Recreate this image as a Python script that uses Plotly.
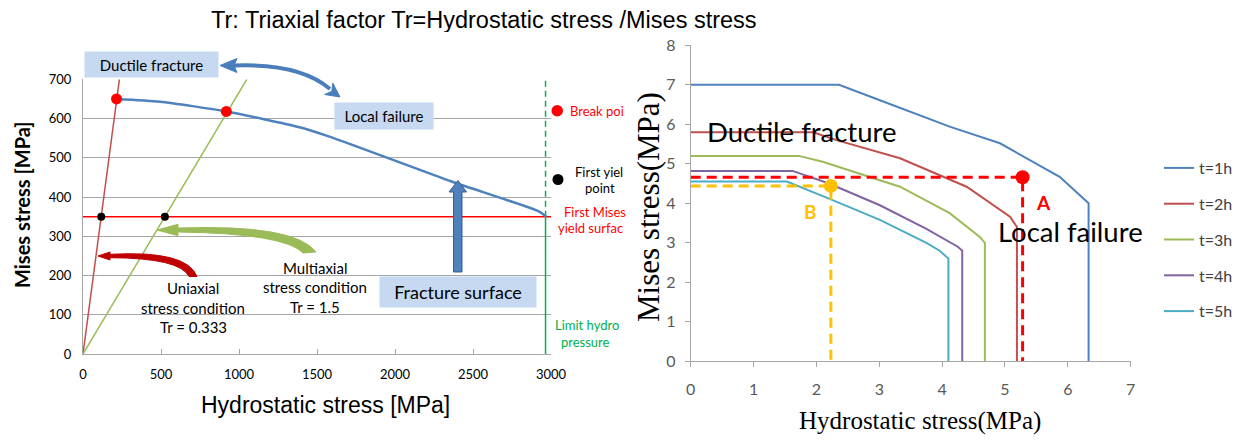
import plotly.graph_objects as go

# page body adds an 8px offset; figure is sized to fill the rest of the window
OFF = 8
W, H = 1244 - OFF, 440 - OFF


def fx(x):
    return (x - OFF) / W


def fy(y):
    return 1 - (y - OFF) / H


def P(x, y):
    return f"{fx(x):.5f},{fy(y):.5f}"


# ---------------- Left chart data ----------------
uni_hydro = [0, 233.3]
uni_mises = [0, 700]
multi_hydro = [0, 1050]
multi_mises = [0, 700]
frac_hydro = [215, 493, 919, 1388, 1580, 2367, 2924, 2970]
frac_mises = [650, 643, 618, 578, 554, 439, 363, 350]
mises_yield_hydro = [0, 3000]
mises_yield_mises = [350, 350]
limit_hydro = [2965, 2965]
limit_solid_mises = [0, 350]
limit_dash_mises = [350, 700]
break_hydro = [215, 919]
break_mises = [650, 618]
yield_hydro = [117, 525]
yield_mises = [350, 350]

# ---------------- Right chart data ----------------
t_names = ["t=1h", "t=2h", "t=3h", "t=4h", "t=5h"]
t_colors = ["#4f81bd", "#c0504d", "#9bbb59", "#8064a2", "#4bacc6"]
t1_x = [0, 2.36, 3.01, 4.12, 4.92, 5.87, 6.33, 6.33]
t1_y = [7, 7, 6.61, 5.94, 5.52, 4.67, 4.0, 0]
t2_x = [0, 1.95, 2.32, 3.33, 4.39, 5.08, 5.19, 5.19]
t2_y = [5.8, 5.8, 5.6, 5.14, 4.42, 3.66, 3.4, 0]
t3_x = [0, 1.72, 2.1, 3.33, 4.12, 4.6, 4.68, 4.68]
t3_y = [5.2, 5.2, 5.05, 4.42, 3.75, 3.15, 3.0, 0]
t4_x = [0, 1.62, 2.2, 3.01, 3.75, 4.12, 4.25, 4.32, 4.32]
t4_y = [4.82, 4.82, 4.5, 3.95, 3.35, 3.03, 2.9, 2.8, 0]
t5_x = [0, 1.53, 2.2, 3.01, 3.75, 3.96, 4.1, 4.1]
t5_y = [4.55, 4.55, 4.12, 3.58, 3.0, 2.8, 2.6, 0]
point_a = (5.28, 4.66)
point_b = (2.23, 4.44)

fig = go.Figure()

# ---- left traces ----
fig.add_trace(go.Scatter(x=uni_hydro, y=uni_mises, mode="lines",
                         line=dict(color="#c0504d", width=1.5), showlegend=False))
fig.add_trace(go.Scatter(x=multi_hydro, y=multi_mises, mode="lines",
                         line=dict(color="#9bbb59", width=1.5), showlegend=False))
fig.add_trace(go.Scatter(x=mises_yield_hydro, y=mises_yield_mises, mode="lines",
                         line=dict(color="#ff0000", width=1.5), showlegend=False))
fig.add_trace(go.Scatter(x=limit_hydro, y=limit_solid_mises, mode="lines",
                         line=dict(color="#00b050", width=1.5), showlegend=False))
fig.add_trace(go.Scatter(x=limit_hydro, y=limit_dash_mises, mode="lines",
                         line=dict(color="#00b050", width=1.5, dash="6px,4px"), showlegend=False))
fig.add_trace(go.Scatter(x=frac_hydro, y=frac_mises, mode="lines",
                         line=dict(color="#4f81bd", width=2.5, shape="spline", smoothing=0.6),
                         showlegend=False))
fig.add_trace(go.Scatter(x=break_hydro, y=break_mises, mode="markers",
                         marker=dict(color="#ff0000", size=11), showlegend=False))
fig.add_trace(go.Scatter(x=yield_hydro, y=yield_mises, mode="markers",
                         marker=dict(color="#000000", size=8), showlegend=False))

# ---- right traces ----
for i, (xs, ys) in enumerate([(t1_x, t1_y), (t2_x, t2_y), (t3_x, t3_y), (t4_x, t4_y), (t5_x, t5_y)]):
    fig.add_trace(go.Scatter(x=xs, y=ys, mode="lines", name=t_names[i],
                             legendgroup=t_names[i],
                             line=dict(color=t_colors[i], width=2),
                             xaxis="x2", yaxis="y2"))

fig.add_trace(go.Scatter(x=[0, point_a[0], point_a[0]], y=[point_a[1], point_a[1], 0],
                         mode="lines", line=dict(color="#ff0000", width=3, dash="10px,6px"),
                         xaxis="x2", yaxis="y2", showlegend=False))
fig.add_trace(go.Scatter(x=[0, point_b[0], point_b[0]], y=[point_b[1], point_b[1], 0],
                         mode="lines", line=dict(color="#ffc000", width=3, dash="10px,6px"),
                         xaxis="x2", yaxis="y2", showlegend=False))
fig.add_trace(go.Scatter(x=[point_a[0]], y=[point_a[1]], mode="markers",
                         marker=dict(color="#ff0000", size=14), xaxis="x2", yaxis="y2",
                         showlegend=False))
fig.add_trace(go.Scatter(x=[point_b[0]], y=[point_b[1]], mode="markers",
                         marker=dict(color="#ffc000", size=14), xaxis="x2", yaxis="y2",
                         showlegend=False))

CAL = "Lato, 'Open Sans', sans-serif"
ARI = "'Liberation Sans', Arial, sans-serif"
SER = "'Liberation Serif', 'Times New Roman', serif"
GRAY = "#a6a6a6"

fig.update_layout(
    width=W, height=H, margin=dict(l=0, r=0, t=0, b=0, autoexpand=False),
    paper_bgcolor="white", plot_bgcolor="white",
    showlegend=True,
    legend=dict(x=fx(1159), y=fy(151), xanchor="left", yanchor="top",
                font=dict(family=CAL, size=16, color="#404040"),
                tracegroupgap=12, bgcolor="rgba(0,0,0,0)"),
    xaxis=dict(domain=[fx(83), fx(551)], range=[0, 3000], tickvals=[0, 500, 1000, 1500, 2000, 2500, 3000],
               showgrid=False, zeroline=False, showline=True, linecolor=GRAY, linewidth=1,
               ticks="inside", ticklen=5, tickcolor=GRAY, ticklabelstandoff=8,
               tickfont=dict(family=CAL, size=13, color="#000")),
    yaxis=dict(domain=[fy(354), fy(79.3)], range=[0, 700], dtick=100,
               showgrid=True, gridcolor=GRAY, gridwidth=1, zeroline=False,
               showline=True, linecolor=GRAY, linewidth=1, ticks="", ticklabelstandoff=8,
               tickfont=dict(family=CAL, size=13, color="#000")),
    xaxis2=dict(domain=[fx(690.7), fx(1130.7)], range=[0, 7], dtick=1, anchor="y2",
                showgrid=False, zeroline=False, showline=True, linecolor=GRAY, linewidth=1,
                ticks="outside", ticklen=5, tickcolor=GRAY, ticklabelstandoff=8,
                tickfont=dict(family=CAL, size=16, color="#595959")),
    yaxis2=dict(domain=[fy(361.3), fy(45.3)], range=[0, 8], dtick=1, anchor="x2",
                showgrid=False, zeroline=False, showline=True, linecolor=GRAY, linewidth=1,
                ticks="outside", ticklen=5, tickcolor=GRAY, ticklabelstandoff=6,
                tickfont=dict(family=CAL, size=16, color="#595959")),
)

ann = []


def txt(x, y, text, size, color="#000", family=CAL, xanchor="center", bold=False, **kw):
    t = f"<b>{text}</b>" if bold else text
    d = dict(x=fx(x), y=fy(y), xref="paper", yref="paper", text=t, showarrow=False,
             xanchor=xanchor, yanchor="middle", font=dict(family=family, size=size, color=color))
    d.update(kw)
    ann.append(d)


# titles
txt(484, 20, "Tr: Triaxial factor Tr=Hydrostatic stress /Mises stress", 23.5, family=ARI,
    height=24, borderpad=0)
txt(325, 405, "Hydrostatic stress [MPa]", 23, family=ARI)
txt(22, 205, "Mises stress [MPa]", 20, bold=True, textangle=-90)
txt(920, 421, "Hydrostatic stress(MPa)", 25, family=SER)
txt(648, 207, "Mises stress(MPa)", 31, family=SER, textangle=-90)

# boxes
for cx, cy, w, h, text, size in [(151.5, 64.5, 133, 25, "Ductile fracture", 15),
                                  (383.5, 116.3, 98, 26, "Local failure", 15),
                                  (458, 291.7, 156, 30, "Fracture surface", 18)]:
    ann.append(dict(x=fx(cx), y=fy(cy), xref="paper", yref="paper", text=text, showarrow=False,
                    xanchor="center", yanchor="middle", width=w, height=h, borderpad=0,
                    bgcolor="#c6d9f1", align="center", valign="middle",
                    font=dict(family=CAL, size=size, color="#000")))

# condition texts
for cx, ys, lines in [(193, [288, 308, 327], ["Uniaxial", "stress condition", "Tr = 0.333"]),
                      (315, [268, 287, 307], ["Multiaxial", "stress condition", "Tr = 1.5"])]:
    for yy, line in zip(ys, lines):
        txt(cx, yy, line, 15)

# side legend texts of left chart
txt(568, 110.7, "Break poi", 13, color="#ff0000", xanchor="left")
txt(572.7, 171.7, "First yiel", 13, xanchor="left")
txt(600, 188.3, "point", 13)
txt(561.7, 211.7, "First Mises", 13, color="#ff0000", xanchor="left")
txt(556, 228.3, "yield surfac", 13, color="#ff0000", xanchor="left")
txt(553.3, 325, "Limit hydro", 13, color="#00b050", xanchor="left")
txt(585.7, 341.7, "pressure", 13, color="#00b050")

# right chart texts
txt(801.7, 131.7, "Ductile fracture", 27.5)
txt(1070, 231, "Local failure", 27.5, height=26, borderpad=0)
txt(1043, 202, "A", 19, color="#ff0000", bold=True, height=18, borderpad=0)
txt(810, 211.7, "B", 19, color="#ffc000", bold=True)

fig.update_layout(annotations=ann)

shapes = []
# side markers left chart
shapes.append(dict(type="circle", xref="paper", yref="paper", x0=fx(551.5), x1=fx(563), y0=fy(105), y1=fy(116.5),
                   fillcolor="#ff0000", line=dict(width=0)))
shapes.append(dict(type="circle", xref="paper", yref="paper", x0=fx(552.5), x1=fx(563.5), y0=fy(174), y1=fy(185),
                   fillcolor="#000000", line=dict(width=0)))

BLUE = "#4a7ebb"
# blue double arrow
shapes.append(dict(type="path", xref="paper", yref="paper",
                   path=f"M {P(234, 65.5)} Q {P(300, 63)} {P(330, 89)}",
                   line=dict(color=BLUE, width=4), fillcolor="rgba(0,0,0,0)", layer="above"))
shapes.append(dict(type="path", xref="paper", yref="paper",
                   path=f"M {P(220, 65.5)} L {P(237, 58.5)} L {P(234, 65.5)} L {P(237, 72.5)} Z",
                   line=dict(color=BLUE, width=1), fillcolor=BLUE, layer="above"))
shapes.append(dict(type="path", xref="paper", yref="paper",
                   path=f"M {P(340, 97)} L {P(324.6, 94.5)} L {P(331.9, 91.2)} L {P(332.8, 83.1)} Z",
                   line=dict(color=BLUE, width=1), fillcolor=BLUE, layer="above"))
# vertical block arrow
shapes.append(dict(type="path", xref="paper", yref="paper",
                   path=(f"M {P(458, 180.5)} L {P(466.5, 192)} L {P(462, 192)} L {P(462, 272)} "
                         f"L {P(453.5, 272)} L {P(453.5, 192)} L {P(449, 192)} Z"),
                   line=dict(color="#385d8a", width=1), fillcolor="#4f81bd", layer="above"))
# green curved arrow
shapes.append(dict(type="path", xref="paper", yref="paper",
                   path=(f"M {P(157, 230)} L {P(178, 224.3)} L {P(178, 228)} Q {P(295, 224)} {P(316, 252)} "
                         f"L {P(303, 253)} Q {P(285, 233.5)} {P(178, 232)} L {P(178, 235.7)} Z"),
                   line=dict(color="#9bbb59", width=1), fillcolor="#9bbb59", layer="above"))
# red curved arrow
shapes.append(dict(type="path", xref="paper", yref="paper",
                   path=(f"M {P(98, 256)} L {P(110, 252)} L {P(110, 254.3)} Q {P(187, 250)} {P(197, 276.5)} "
                         f"L {P(189, 276.5)} Q {P(180, 258)} {P(110, 257.7)} L {P(110, 260)} Z"),
                   line=dict(color="#c00000", width=1), fillcolor="#c00000", layer="above"))

fig.update_layout(shapes=shapes)

fig.write_html("out.html")
